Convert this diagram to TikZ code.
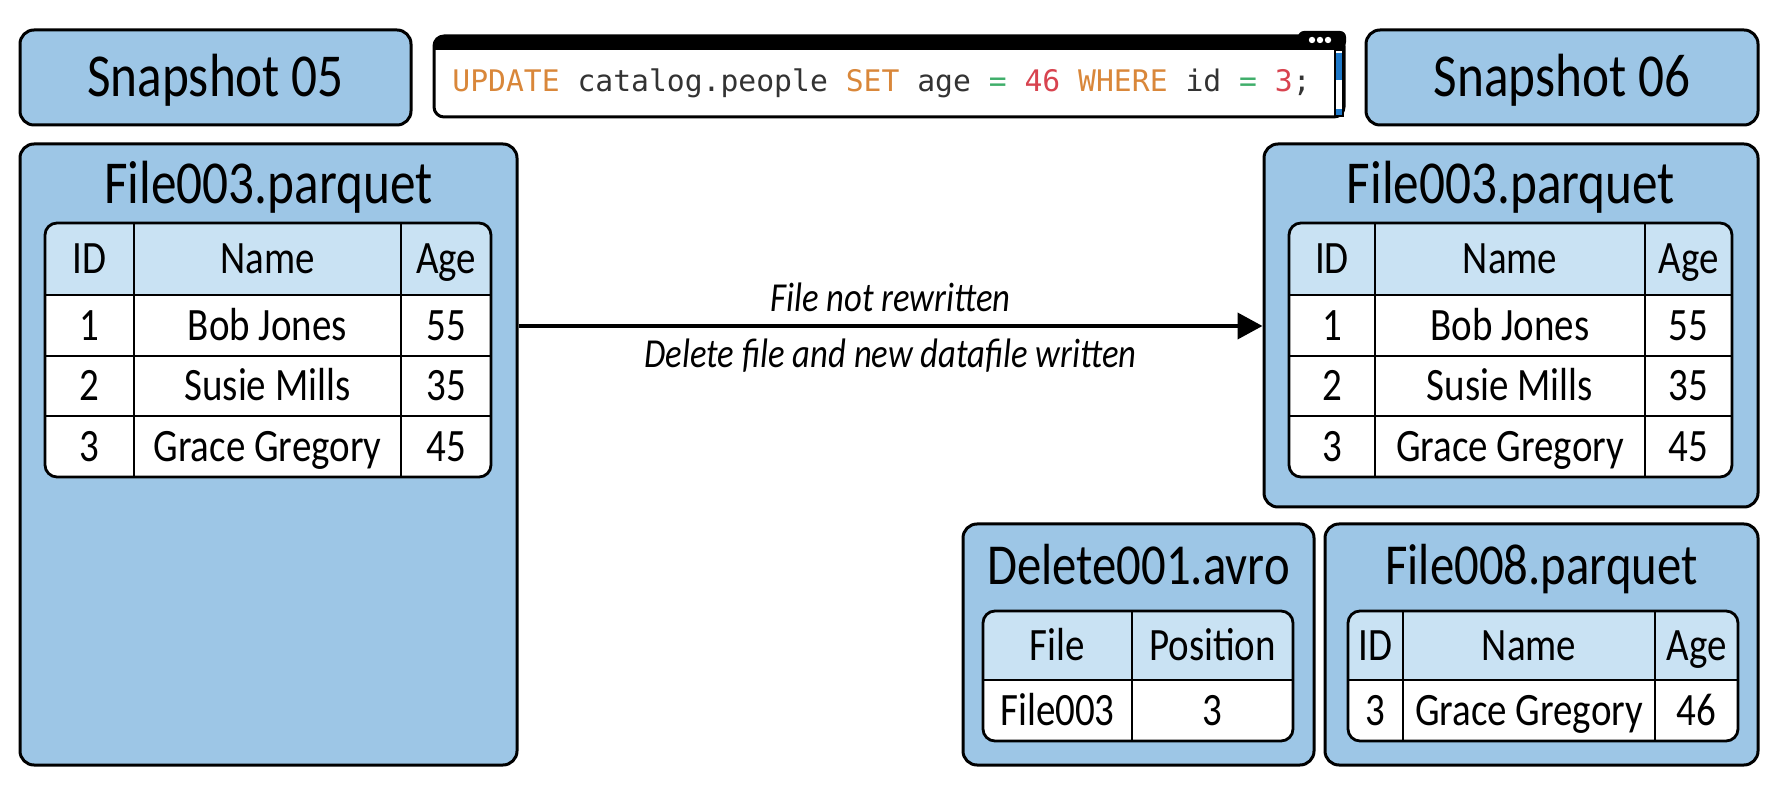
\documentclass[tikz,border=0pt]{standalone}
\usepackage{fontspec}
\setmainfont{Carlito}[FakeStretch=0.84]
\setmonofont{DejaVu Sans Mono}
\usepackage{xcolor}
\usepackage{tikz}
\usetikzlibrary{arrows.meta,positioning}
\definecolor{boxc}{HTML}{9DC6E6}
\definecolor{hdrc}{HTML}{C9E2F3}
\definecolor{kwc}{HTML}{D9873A}
\definecolor{txc}{HTML}{333333}
\definecolor{eqc}{HTML}{3FAE6A}
\definecolor{numc}{HTML}{D8434F}
\definecolor{barc}{HTML}{1E78C8}
\newcommand{\snapfont}{\fontsize{30.5}{35}\selectfont}
\newcommand{\bigtitfont}{\fontsize{30.5}{35}\selectfont}
\newcommand{\smalltitfont}{\fontsize{29}{34}\selectfont}
\newcommand{\cellfont}{\fontsize{23.2}{27}\selectfont}
\newcommand{\lblfont}{\fontsize{20.6}{24}\selectfont\itshape}
\tikzset{
  ar/.style={-{Triangle[length=12.5pt,width=13pt]},line width=2pt,black},
  panel/.style={draw=black,line width=1.5pt,rounded corners=7pt,fill=boxc,inner sep=0pt},
  tline/.style={black,line width=1.4pt},
  cell/.style={font=\cellfont,text height=16.5pt,text depth=1.8pt,inner sep=0pt},
  tit/.style={text height=21pt,text depth=1.8pt,inner sep=0pt},
  lbl/.style={font=\lblfont,text height=14.8pt,text depth=1.8pt,inner sep=0pt}
}
\begin{document}
\begin{tikzpicture}[x=0.5pt,y=-0.5pt]
\useasboundingbox (0,0) rectangle (1782,790);
% snapshots and the statement
\node[panel,tit,minimum width=195.5pt,minimum height=47.5pt,font=\snapfont] (snap5) at (215.5,77.5) {Snapshot 05};
\node[panel,tit,minimum width=196pt,minimum height=47.5pt,font=\snapfont] (snap6) at (1562,77.5) {Snapshot 06};
\node[draw=black,line width=1.5pt,rounded corners=5pt,fill=white,minimum width=455pt,minimum height=40.5pt] (win) at (889,76.5) {};
\begin{scope}
 \clip[rounded corners=5pt] (434,36) rectangle (1344,117);
 \fill[black] (434,36) rectangle (1344,50);
\end{scope}
\fill[black,rounded corners=3pt] (1298,31) rectangle (1346,48);
\foreach \x in {1312,1320,1328}{\fill[white] (\x,40) circle (1.6pt);}
\draw[black,line width=0.8pt,fill=white] (1335,50) rectangle (1343,116);
\fill[barc] (1336,53) rectangle (1342,80);
\fill[barc] (1336,109) rectangle (1342,115);
\node[anchor=west,font=\ttfamily\fontsize{14.85}{17}\selectfont,text=txc,inner sep=0pt] (sql) at (452,83)
 {\textcolor{kwc}{UPDATE} catalog.people \textcolor{kwc}{SET} age \textcolor{eqc}{=} \textcolor{numc}{46} \textcolor{kwc}{WHERE} id \textcolor{eqc}{=} \textcolor{numc}{3};};
% data files
\node[panel,minimum width=248.5pt,minimum height=310.5pt] (lbig) at (268.5,454.5) {};
\node[panel,minimum width=247pt,minimum height=181.5pt] (rbig) at (1511,325.5) {};
\node[panel,minimum width=175.5pt,minimum height=120.5pt] (del) at (1138.5,644.5) {};
\node[panel,minimum width=216.5pt,minimum height=120.5pt] (f8) at (1541.5,644.5) {};
\node[tit,font=\bigtitfont] (ltit) at (268.5,184) {File003.parquet};
\node[tit,font=\bigtitfont] (rtit) at (1511,184) {File003.parquet};
\node[tit,font=\smalltitfont] (dtit) at (1138.5,565) {Delete001.avro};
\node[tit,font=\smalltitfont] (ftit) at (1541.5,565) {File008.parquet};
% left table
\begin{scope}
 \clip[rounded corners=6pt] (45,223) rectangle (491,477);
 \fill[white] (45,223) rectangle (491,477);
 \fill[hdrc] (45,223) rectangle (491,295);
\end{scope}
\draw[tline,rounded corners=6pt] (45,223) rectangle (491,477);
\foreach \y in {295,356,416}{\draw[tline] (45,\y) -- (491,\y);}
\foreach \x in {134,401}{\draw[tline] (\x,223) -- (\x,477);}
\foreach \y/\a/\b/\c [count=\r] in {259/ID/Name/Age,325.5/1/Bob Jones/55,386/2/Susie Mills/35,446.5/3/Grace Gregory/45}{
  \node[cell] (l\r a) at (89.5,\y) {\a};
  \node[cell] (l\r b) at (267.5,\y) {\b};
  \node[cell] (l\r c) at (446,\y) {\c};
}
% right table
\begin{scope}
 \clip[rounded corners=6pt] (1289,223) rectangle (1732,477);
 \fill[white] (1289,223) rectangle (1732,477);
 \fill[hdrc] (1289,223) rectangle (1732,295);
\end{scope}
\draw[tline,rounded corners=6pt] (1289,223) rectangle (1732,477);
\foreach \y in {295,356,416}{\draw[tline] (1289,\y) -- (1732,\y);}
\foreach \x in {1375,1645}{\draw[tline] (\x,223) -- (\x,477);}
\foreach \y/\a/\b/\c [count=\r] in {259/ID/Name/Age,325.5/1/Bob Jones/55,386/2/Susie Mills/35,446.5/3/Grace Gregory/45}{
  \node[cell] (r\r a) at (1332,\y) {\a};
  \node[cell] (r\r b) at (1510,\y) {\b};
  \node[cell] (r\r c) at (1688.5,\y) {\c};
}
% delete file
\begin{scope}
 \clip[rounded corners=6pt] (983,611) rectangle (1293,741);
 \fill[white] (983,611) rectangle (1293,741);
 \fill[hdrc] (983,611) rectangle (1293,680);
\end{scope}
\draw[tline,rounded corners=6pt] (983,611) rectangle (1293,741);
\draw[tline] (983,680) -- (1293,680);
\draw[tline] (1132,611) -- (1132,741);
\node[cell] (d1a) at (1057.5,645.5) {File};
\node[cell] (d1b) at (1212.5,645.5) {Position};
\node[cell] (d2a) at (1057.5,710.5) {File003};
\node[cell] (d2b) at (1212.5,710.5) {3};
% new data file
\begin{scope}
 \clip[rounded corners=6pt] (1348,611) rectangle (1738,741);
 \fill[white] (1348,611) rectangle (1738,741);
 \fill[hdrc] (1348,611) rectangle (1738,680);
\end{scope}
\draw[tline,rounded corners=6pt] (1348,611) rectangle (1738,741);
\draw[tline] (1348,680) -- (1738,680);
\foreach \x in {1403,1655}{\draw[tline] (\x,611) -- (\x,741);}
\foreach \y/\a/\b/\c [count=\r] in {645.5/ID/Name/Age,710.5/3/Grace Gregory/46}{
  \node[cell] (f\r a) at (1375.5,\y) {\a};
  \node[cell] (f\r b) at (1529,\y) {\b};
  \node[cell] (f\r c) at (1696.5,\y) {\c};
}
% the update
\coordinate (arry) at (0,326);
\draw[ar] (lbig.east |- arry) -- (rbig.west |- arry)
  node[lbl,midway,yshift=13.5pt] (lup) {File not rewritten}
  node[lbl,midway,yshift=-14.5pt] (ldown) {Delete file and new datafile written};
\end{tikzpicture}
\end{document}
